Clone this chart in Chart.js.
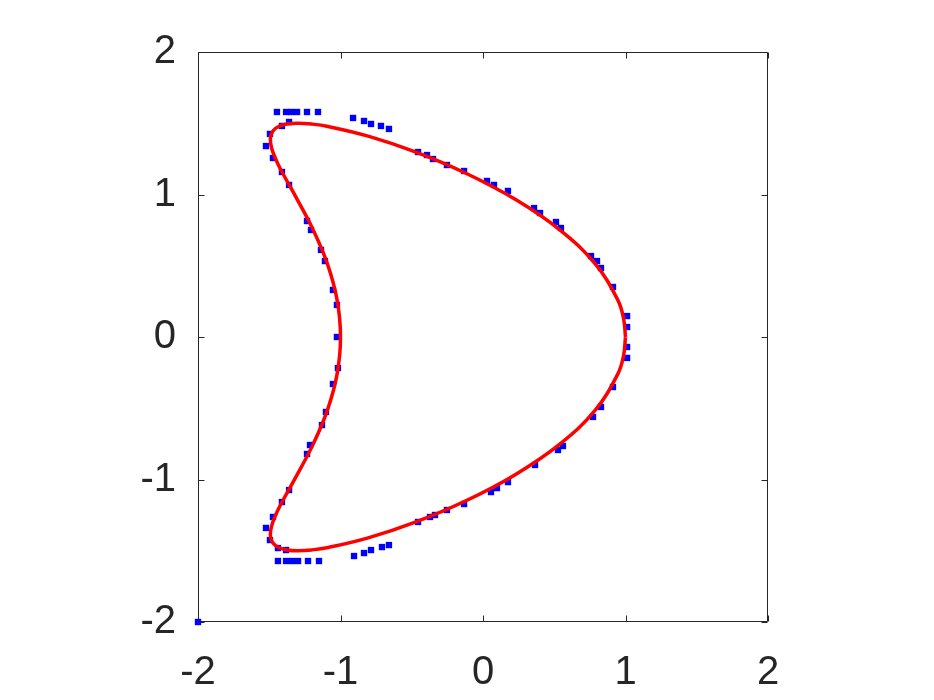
<!DOCTYPE html>
<html>
<head>
<meta charset="utf-8">
<script src="https://cdn.jsdelivr.net/npm/chart.js@4/dist/chart.umd.min.js"></script>
<style>
html,body{margin:0;padding:0;background:#fff;}
#wrap{width:934px;height:700px;}
</style>
</head>
<body>
<div id="wrap"><canvas id="c" width="934" height="700"></canvas></div>
<script>
// Red reference curve, closed loop
const curveX = [1.0000, 0.9863, 0.9456, 0.7876, 0.5410, 0.2289, -0.1201, -0.4750, -0.8059, -1.0872, -1.2029, -1.3000, -1.3773, -1.4344, -1.4717, -1.4899, -1.4904, -1.4750, -1.4459, -1.4057, -1.3031, -1.1910, -1.0918, -1.0240, -1.0000,
  -1.0240, -1.0918, -1.1910, -1.3031, -1.4057, -1.4459, -1.4750, -1.4904, -1.4899, -1.4717, -1.4344, -1.3773, -1.3000, -1.2029, -1.0872, -0.8059, -0.4750, -0.1201, 0.2289, 0.5410, 0.7876, 0.9456, 0.9863, 1.0000];
const curveY = [0.0000, 0.1307, 0.2605, 0.5130, 0.7500, 0.9642, 1.1491, 1.2990, 1.4095, 1.4772, 1.4943, 1.5000, 1.4943, 1.4772, 1.4489, 1.4095, 1.3595, 1.2990, 1.2287, 1.1491, 0.9642, 0.7500, 0.5130, 0.2605, 0.0000,
  -0.2605, -0.5130, -0.7500, -0.9642, -1.1491, -1.2287, -1.2990, -1.3595, -1.4095, -1.4489, -1.4772, -1.4943, -1.5000, -1.4943, -1.4772, -1.4095, -1.2990, -1.1491, -0.9642, -0.7500, -0.5130, -0.2605, -0.1307, 0.0000];

// Blue measured points
const pointsX = [
  -1.446, -1.382, -1.347, -1.305, -1.235, -1.158,
  -1.411, -1.361, -1.495, -1.523, -1.474, -1.411, -1.361,
  -1.235, -1.207, -1.137, -1.109, -1.053, -1.025,
  -1.025,
  -1.018, -1.053, -1.102, -1.130, -1.214, -1.235,
  -1.361, -1.411, -1.474, -1.523, -1.495, -1.439, -1.382,
  -1.439, -1.382, -1.340, -1.298, -1.228, -1.151,
  -0.912, -0.835, -0.786, -0.716, -0.660,
  -0.905, -0.835, -0.786, -0.709, -0.660,
  -0.456, -0.393, -0.351, -0.253, -0.133, 0.028, 0.077, 0.175, 0.358, 0.400, 0.512, 0.547, 0.758, 0.800, 0.828, 0.912,
  1.011, 1.011, 1.011, 1.011,
  0.912, 0.828, 0.772, 0.526, 0.561, 0.365, 0.175, 0.056, 0.098, -0.133, -0.253, -0.372, -0.337, -0.456,
  -2.000
];
const pointsY = [
  1.579, 1.579, 1.579, 1.579, 1.579, 1.579,
  1.481, 1.509, 1.425, 1.340, 1.256, 1.158, 1.067,
  0.814, 0.751, 0.611, 0.533, 0.330, 0.225,
  0.000,
  -0.218, -0.330, -0.526, -0.618, -0.758, -0.821,
  -1.074, -1.158, -1.263, -1.340, -1.425, -1.481, -1.495,
  -1.572, -1.572, -1.572, -1.572, -1.572, -1.572,
  1.537, 1.516, 1.495, 1.481, 1.460,
  -1.537, -1.516, -1.495, -1.474, -1.460,
  1.298, 1.277, 1.249, 1.207, 1.165, 1.095, 1.067, 1.025, 0.905, 0.870, 0.807, 0.765, 0.568, 0.533, 0.484, 0.351,
  0.147, 0.070, -0.070, -0.147,
  -0.351, -0.491, -0.561, -0.793, -0.765, -0.898, -1.018, -1.088, -1.060, -1.172, -1.214, -1.263, -1.249, -1.298,
  -2.000
];

const xTicks = [-2, -1, 0, 1, 2];
const yTicks = [-2, -1, 0, 1, 2];

const curveData = curveX.map((x, i) => ({x: x, y: curveY[i]}));
const pointData = pointsX.map((x, i) => ({x: x, y: pointsY[i]}));

const AXIS = '#262626';
const FONT = {family: '"Liberation Sans", Arial, Helvetica, sans-serif', size: 40};

const boxPlugin = {
  id: 'box',
  beforeDatasetsDraw(chart) {
    const ctx = chart.ctx, a = chart.chartArea;
    const xs = chart.scales.x, ys = chart.scales.y;
    const L = Math.round(a.left) + 0.5, R = Math.round(a.right) - 0.5;
    const T = Math.round(a.top) + 0.5, B = Math.round(a.bottom) - 0.5;
    const tl = 6;
    ctx.save();
    ctx.strokeStyle = AXIS;
    ctx.lineWidth = 1;
    ctx.beginPath();
    ctx.rect(L, T, R - L, B - T);
    xTicks.forEach(v => {
      const p = Math.round(xs.getPixelForValue(v)) + 0.5;
      ctx.moveTo(p, B); ctx.lineTo(p, B - tl);
      ctx.moveTo(p, T); ctx.lineTo(p, T + tl);
    });
    yTicks.forEach(v => {
      const p = Math.round(ys.getPixelForValue(v)) + 0.5;
      ctx.moveTo(L, p); ctx.lineTo(L + tl, p);
      ctx.moveTo(R, p); ctx.lineTo(R - tl, p);
    });
    ctx.stroke();
    ctx.restore();
  }
};

new Chart(document.getElementById('c'), {
  type: 'scatter',
  data: {
    datasets: [
      {
        data: curveData,
        showLine: true,
        borderColor: '#ff0000',
        borderWidth: 3.5,
        pointRadius: 0,
        tension: 0.4,
        fill: false,
        order: 0
      },
      {
        data: pointData,
        showLine: false,
        pointStyle: 'rect',
        pointRadius: 4.5,
        pointBorderWidth: 0,
        backgroundColor: '#0000ff',
        borderColor: '#0000ff',
        clip: false,
        order: 1
      }
    ]
  },
  options: {
    responsive: false,
    animation: false,
    events: [],
    layout: {padding: {top: 52, right: 166, left: 0, bottom: 0}},
    plugins: {legend: {display: false}, tooltip: {enabled: false}},
    scales: {
      x: {
        type: 'linear', min: -2, max: 2,
        grid: {display: false}, border: {display: false},
        afterBuildTicks: s => { s.ticks = xTicks.map(v => ({value: v})); },
        ticks: {color: AXIS, font: FONT, padding: 19, maxRotation: 0, autoSkip: false},
        afterFit: s => { s.height = 78; }
      },
      y: {
        type: 'linear', min: -2, max: 2,
        grid: {display: false}, border: {display: false},
        afterBuildTicks: s => { s.ticks = yTicks.map(v => ({value: v})); },
        ticks: {color: AXIS, font: FONT, padding: 14, autoSkip: false},
        afterFit: s => { s.width = 198; }
      }
    }
  },
  plugins: [boxPlugin]
});
</script>
</body>
</html>
